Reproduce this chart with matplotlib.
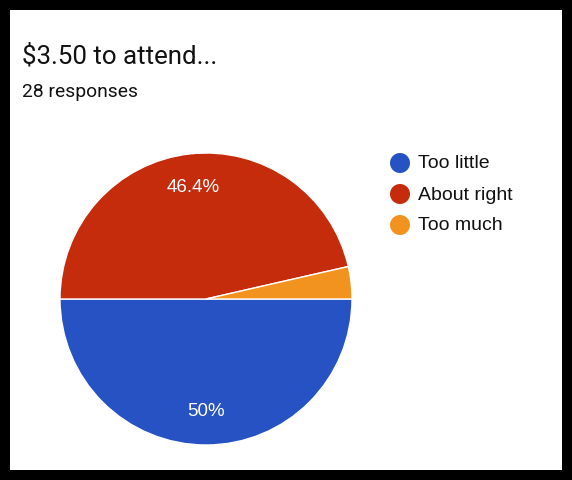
import matplotlib
matplotlib.use("Agg")
import matplotlib.pyplot as plt
from matplotlib.patches import Circle

plt.rcParams['font.family'] = ['Roboto', 'DejaVu Sans']

title = "$3.50 to attend..."
subtitle = "28 responses"
labels = ["Too little", "About right", "Too much"]
counts = [14, 13, 1]
colors = ["#2752c3", "#c52c0c", "#f2931f"]

W, H = 572, 480
fig = plt.figure(figsize=(W / 100, H / 100), dpi=100)
fig.patch.set_facecolor("black")


def fx(px):
    return px / W


def fy(py):
    return 1 - py / H


# white card inside the black frame
bg = fig.add_axes([fx(10), fy(470), 552 / W, 460 / H], facecolor="white")
bg.set_xticks([])
bg.set_yticks([])
for s in bg.spines.values():
    s.set_visible(False)

fig.text(fx(22), fy(56), title, fontsize=18.6, color="#111111",
         va="center", ha="left")
fig.text(fx(22), fy(92), subtitle, fontsize=13.9, color="#111111",
         va="center", ha="left")

# pie
ax = fig.add_axes([fx(60), fy(445), 292 / W, 292 / H])
ax.set_aspect("equal")


def pct_fmt(p):
    if p < 5:
        return ""
    return f"{p:.1f}%".replace(".0%", "%")


wedges, texts, autotexts = ax.pie(
    counts, colors=colors, startangle=0, counterclock=False,
    autopct=pct_fmt, pctdistance=0.77, radius=1,
    wedgeprops=dict(edgecolor="white", linewidth=1),
    textprops=dict(color="white", fontsize=13.5, family="Liberation Sans"))
ax.set_xlim(-1, 1)
ax.set_ylim(-1, 1)
ax.axis("off")

# legend
lax = fig.add_axes([0, 0, 1, 1], facecolor="none")
lax.set_xlim(0, W)
lax.set_ylim(H, 0)
lax.axis("off")
for i, (lab, col) in enumerate(zip(labels, colors)):
    y = 163 + i * 31
    lax.add_patch(Circle((400, y), 10, facecolor=col, edgecolor="none"))
    lax.text(418, y + 1, lab, fontsize=14, color="#111111", va="center",
             ha="left", family="Liberation Sans")

fig.savefig("out.png", dpi=100, facecolor=fig.get_facecolor())
